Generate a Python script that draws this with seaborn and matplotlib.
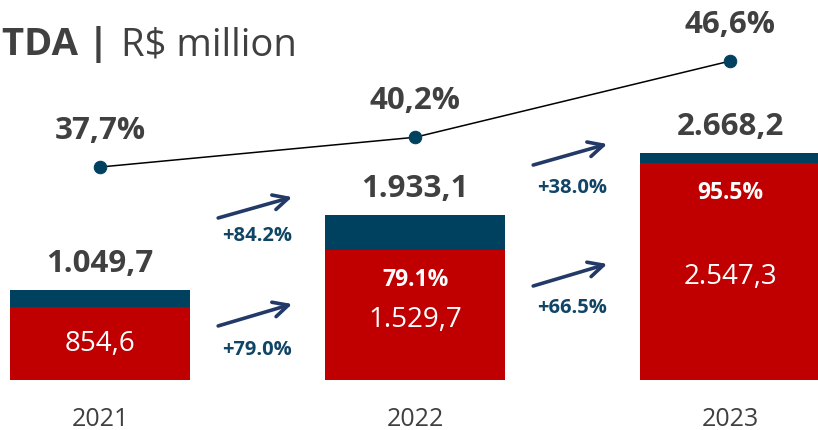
import matplotlib
matplotlib.use("Agg")
import matplotlib.pyplot as plt
import seaborn as sns
import pandas as pd

# ---- data -------------------------------------------------------------
years = ["2021", "2022", "2023"]
totals = [1049.7, 1933.1, 2668.2]
core = [854.6, 1529.7, 2547.3]
total_labels = ["1.049,7", "1.933,1", "2.668,2"]
core_labels = ["854,6", "1.529,7", "2.547,3"]
share_labels = [None, "79.1%", "95.5%"]
margin = [37.7, 40.2, 46.6]
margin_labels = ["37,7%", "40,2%", "46,6%"]
growth_total = ["+84.2%", "+38.0%"]
growth_core = ["+79.0%", "+66.5%"]

# ---- style ------------------------------------------------------------
sns.set_theme(style="white")
plt.rcParams["font.family"] = ["Open Sans", "DejaVu Sans"]

RED = "#C00000"
NAVY = "#00415F"
GREY = "#404040"
ARROW = "#233A68"
GROWTH = "#114566"

df = pd.DataFrame({"year": years, "total": totals, "core": core})

fig = plt.figure(figsize=(8.18, 4.31), dpi=100)
ax = fig.add_axes([0, 0, 1, 1])

sns.barplot(data=df, x="year", y="total", color=NAVY, width=0.571,
            saturation=1, ax=ax, edgecolor="none")
sns.barplot(data=df, x="year", y="core", color=RED, width=0.571,
            saturation=1, ax=ax, edgecolor="none")

ax.set_xlim(-0.3175, 2.279)
ax.set_ylim(-592, 4478)
ax.axis("off")

# margin line on a secondary scale
ax2 = ax.twinx()
sns.lineplot(x=[0, 1, 2], y=margin, ax=ax2, color="black", linewidth=1.1,
             marker="o", markersize=9, markerfacecolor=NAVY,
             markeredgecolor=NAVY, zorder=3)
ax2.set_ylim(15.62, 51.81)
ax2.set_xlim(ax.get_xlim())
ax2.axis("off")

for i, m in enumerate(margin):
    ax2.text(i, m + 3.1, margin_labels[i], ha="center", va="center",
             fontsize=22.5, fontweight="bold", color=GREY)

# bar annotations
for i in range(len(years)):
    ax.text(i, totals[i] + 320, total_labels[i], ha="center", va="center",
            fontsize=22.5, fontweight="bold", color=GREY)
    if share_labels[i] is None:
        ax.text(i, core[i] / 2, core_labels[i], ha="center", va="center",
                fontsize=20, color="white")
    else:
        ax.text(i, core[i] - 340, share_labels[i], ha="center", va="center",
                fontsize=16.5, fontweight="bold", color="white")
        ax.text(i, core[i] / 2 - 50, core_labels[i], ha="center",
                va="center", fontsize=20, color="white")
    ax.text(i, -462, years[i], ha="center", va="center",
            fontsize=18, color=GREY)

# growth arrows between years
arrow_kw = dict(arrowstyle="->,head_length=0.9,head_width=0.45",
                color=ARROW, lw=2.6, shrinkA=0, shrinkB=0)
upper_y = [(1902, 2148), (2525, 2772)]
lower_y = [(632, 890), (1102, 1361)]
upper_lbl = [1702, 2266]
lower_lbl = [361, 855]
for k in range(2):
    x0, x1 = k + 0.375, k + 0.61
    ax.annotate("", xy=(x1, upper_y[k][1]), xytext=(x0, upper_y[k][0]),
                arrowprops=arrow_kw)
    ax.annotate("", xy=(x1, lower_y[k][1]), xytext=(x0, lower_y[k][0]),
                arrowprops=arrow_kw)
    ax.text(k + 0.498, upper_lbl[k], growth_total[k], ha="center",
            va="center", fontsize=14.5, fontweight="bold", color=GROWTH)
    ax.text(k + 0.498, lower_lbl[k], growth_core[k], ha="center",
            va="center", fontsize=14.5, fontweight="bold", color=GROWTH)

# heading
t1 = fig.text(2 / 818, 1 - 55 / 431, "TDA |", fontsize=27.5,
              fontweight="bold", color=GREY, va="baseline")
fig.canvas.draw()
bb = t1.get_window_extent()
fig.text((bb.x1 + 12) / 818, 1 - 55 / 431, "R$ million", fontsize=27.5,
         color=GREY, va="baseline")

fig.savefig("out.png", dpi=100)
